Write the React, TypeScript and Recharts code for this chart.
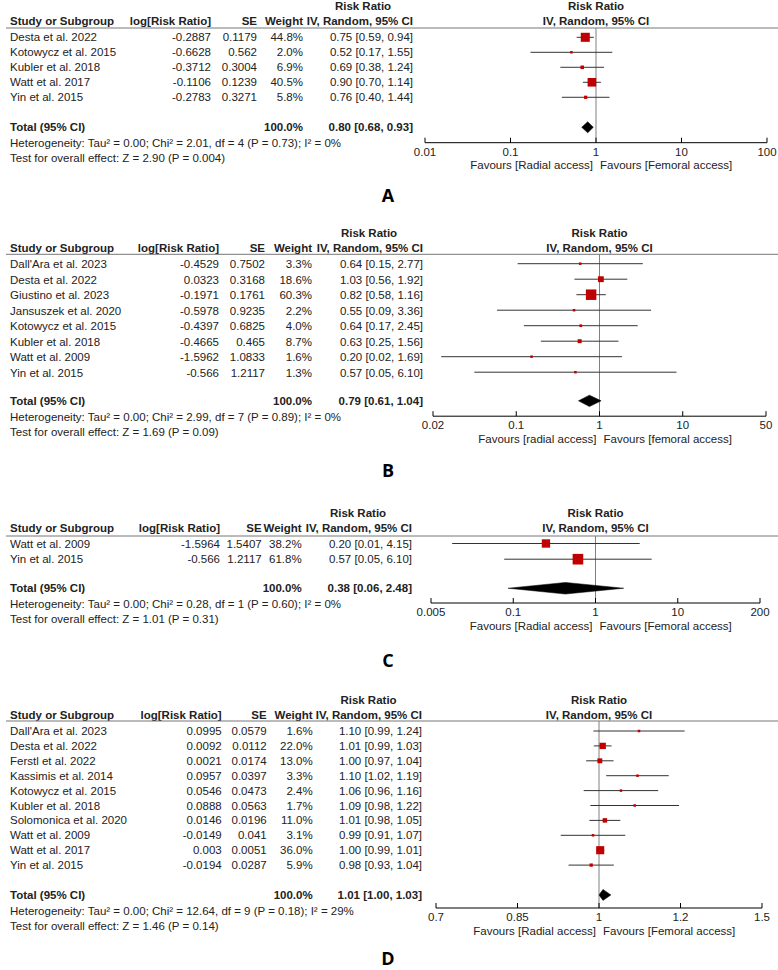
import React from "react";
import { ScatterChart, Scatter, XAxis, YAxis, ErrorBar, ReferenceLine } from "recharts";

const FONT = "'Liberation Sans', Arial, sans-serif";
const TEXT = "#222";

// ---- Panel A ----
const studiesA = ["Desta et al. 2022", "Kotowycz et al. 2015", "Kubler et al. 2018", "Watt et al. 2017", "Yin et al. 2015"];
const logRRA = [-0.2887, -0.6628, -0.3712, -0.1106, -0.2783];
const seA = [0.1179, 0.562, 0.3004, 0.1239, 0.3271];
const weightA = [44.8, 2.0, 6.9, 40.5, 5.8];
const ciA = ["0.75 [0.59, 0.94]", "0.52 [0.17, 1.55]", "0.69 [0.38, 1.24]", "0.90 [0.70, 1.14]", "0.76 [0.40, 1.44]"];
const totalA = [0.8, 0.68, 0.93];
const totalTextA = "0.80 [0.68, 0.93]";
const hetA = "Heterogeneity: Tau² = 0.00; Chi² = 2.01, df = 4 (P = 0.73); I² = 0%";
const testA = "Test for overall effect: Z = 2.90 (P = 0.004)";
const ticksA = ["0.01", "0.1", "1", "10", "100"];
const favoursA = ["Favours [Radial access]", "Favours [Femoral access]"];

// ---- Panel B ----
const studiesB = ["Dall'Ara et al. 2023", "Desta et al. 2022", "Giustino et al. 2023", "Jansuszek et al. 2020", "Kotowycz et al. 2015", "Kubler et al. 2018", "Watt et al. 2009", "Yin et al. 2015"];
const logRRB = [-0.4529, 0.0323, -0.1971, -0.5978, -0.4397, -0.4665, -1.5962, -0.566];
const seB = [0.7502, 0.3168, 0.1761, 0.9235, 0.6825, 0.465, 1.0833, 1.2117];
const weightB = [3.3, 18.6, 60.3, 2.2, 4.0, 8.7, 1.6, 1.3];
const ciB = ["0.64 [0.15, 2.77]", "1.03 [0.56, 1.92]", "0.82 [0.58, 1.16]", "0.55 [0.09, 3.36]", "0.64 [0.17, 2.45]", "0.63 [0.25, 1.56]", "0.20 [0.02, 1.69]", "0.57 [0.05, 6.10]"];
const totalB = [0.79, 0.61, 1.04];
const totalTextB = "0.79 [0.61, 1.04]";
const hetB = "Heterogeneity: Tau² = 0.00; Chi² = 2.99, df = 7 (P = 0.89); I² = 0%";
const testB = "Test for overall effect: Z = 1.69 (P = 0.09)";
const ticksB = ["0.02", "0.1", "1", "10", "50"];
const favoursB = ["Favours [radial access]", "Favours [femoral access]"];

// ---- Panel C ----
const studiesC = ["Watt et al. 2009", "Yin et al. 2015"];
const logRRC = [-1.5964, -0.566];
const seC = [1.5407, 1.2117];
const weightC = [38.2, 61.8];
const ciC = ["0.20 [0.01, 4.15]", "0.57 [0.05, 6.10]"];
const totalC = [0.38, 0.06, 2.48];
const totalTextC = "0.38 [0.06, 2.48]";
const hetC = "Heterogeneity: Tau² = 0.00; Chi² = 0.28, df = 1 (P = 0.60); I² = 0%";
const testC = "Test for overall effect: Z = 1.01 (P = 0.31)";
const ticksC = ["0.005", "0.1", "1", "10", "200"];
const favoursC = ["Favours [Radial access]", "Favours [Femoral access]"];

// ---- Panel D ----
const studiesD = ["Dall'Ara et al. 2023", "Desta et al. 2022", "Ferstl et al. 2022", "Kassimis et al. 2014", "Kotowycz et al. 2015", "Kubler et al. 2018", "Solomonica et al. 2020", "Watt et al. 2009", "Watt et al. 2017", "Yin et al. 2015"];
const logRRD = [0.0995, 0.0092, 0.0021, 0.0957, 0.0546, 0.0888, 0.0146, -0.0149, 0.003, -0.0194];
const seD = [0.0579, 0.0112, 0.0174, 0.0397, 0.0473, 0.0563, 0.0196, 0.041, 0.0051, 0.0287];
const weightD = [1.6, 22.0, 13.0, 3.3, 2.4, 1.7, 11.0, 3.1, 36.0, 5.9];
const ciD = ["1.10 [0.99, 1.24]", "1.01 [0.99, 1.03]", "1.00 [0.97, 1.04]", "1.10 [1.02, 1.19]", "1.06 [0.96, 1.16]", "1.09 [0.98, 1.22]", "1.01 [0.98, 1.05]", "0.99 [0.91, 1.07]", "1.00 [0.99, 1.01]", "0.98 [0.93, 1.04]"];
const totalD = [1.01, 1.0, 1.03];
const totalTextD = "1.01 [1.00, 1.03]";
const hetD = "Heterogeneity: Tau² = 0.00; Chi² = 12.64, df = 9 (P = 0.18); I² = 29%";
const testD = "Test for overall effect: Z = 1.46 (P = 0.14)";
const ticksD = ["0.7", "0.85", "1", "1.2", "1.5"];
const favoursD = ["Favours [Radial access]", "Favours [Femoral access]"];

// pixel layout of each panel (header line, rows, axis, table columns)
const panels = [
  {
    letter: "A", studies: studiesA, logRR: logRRA, se: seA, weight: weightA, ci: ciA, total: totalA, totalText: totalTextA,
    het: hetA, test: testA, tickLabels: ticksA, favours: favoursA,
    L: { top: 28, row1: 37.3, rowH: 15, totalGap: 2, axisY: 142.7, axisL: 425, axisR: 767, rrY: 6, hdrY: 21,
      colLog: 211, colSe: 257, colW: 303, ivL: 313, ciR: 413, letterY: 195 },
  },
  {
    letter: "B", studies: studiesB, logRR: logRRB, se: seB, weight: weightB, ci: ciB, total: totalB, totalText: totalTextB,
    het: hetB, test: testB, tickLabels: ticksB, favours: favoursB,
    L: { top: 254.3, row1: 264, rowH: 15.5, totalGap: 1.85, axisY: 416.5, axisL: 433, axisR: 766, rrY: 233, hdrY: 248,
      colLog: 219, colSe: 265, colW: 312, ivL: 315, ciR: 423, letterY: 470 },
  },
  {
    letter: "C", studies: studiesC, logRR: logRRC, se: seC, weight: weightC, ci: ciC, total: totalC, totalText: totalTextC,
    het: hetC, test: testC, tickLabels: ticksC, favours: favoursC,
    L: { top: 536, row1: 543.5, rowH: 15.7, totalGap: 1.85, axisY: 603, axisL: 431, axisR: 760, rrY: 512.7, hdrY: 528.3,
      colLog: 220, colSe: 261.7, colW: 301.7, ivL: 304, ciR: 412, letterY: 660 },
  },
  {
    letter: "D", studies: studiesD, logRR: logRRD, se: seD, weight: weightD, ci: ciD, total: totalD, totalText: totalTextD,
    het: hetD, test: testD, tickLabels: ticksD, favours: favoursD,
    L: { top: 721, row1: 731, rowH: 14.9, totalGap: 2, axisY: 908, axisL: 436, axisR: 762, rrY: 700, hdrY: 715,
      colLog: 221.7, colSe: 266.7, colW: 312.7, ivL: 315, ciR: 422, letterY: 958 },
  },
];

const Square = (props: any) => {
  const s = Math.max(2.5, 1.35 * Math.sqrt(props.payload.w));
  return <rect x={props.cx - s / 2} y={props.cy - s / 2} width={s} height={s} fill="#c00000" />;
};

const Diamond = (props: any) => {
  const pts = (props.points || []).map((p: any) => `${p.x},${p.y}`).join(" ");
  return <polygon points={pts} fill="#000" stroke="#000" strokeWidth={0.5} />;
};

function ForestPlot({ p }: { p: any }) {
  const L = p.L;
  const n = p.studies.length;
  const H = L.axisY - L.top;
  const d0 = 1 - (L.row1 - L.top) / L.rowH;
  const d1 = d0 + H / L.rowH;
  const m = Number(p.tickLabels[p.tickLabels.length - 1]);
  const ticks = [1 / m, 1 / Math.sqrt(m), 1, Math.sqrt(m), m];

  const rows = p.studies.map((s: string, i: number) => {
    const x = Math.exp(p.logRR[i]);
    const lo = Math.exp(p.logRR[i] - 1.96 * p.se[i]);
    const hi = Math.exp(p.logRR[i] + 1.96 * p.se[i]);
    return { x, y: i + 1, w: p.weight[i], err: [x - lo, hi - x] };
  });

  const ty = n + L.totalGap;
  const [rr, lo, hi] = p.total;
  const diamond = [
    { x: lo, y: ty },
    { x: rr, y: ty - 0.37 },
    { x: hi, y: ty },
    { x: rr, y: ty + 0.37 },
  ];

  const pad = 24;
  const w = L.axisR - L.axisL + pad * 2;

  const renderTick = (props: any) => {
    const { x, y, index } = props;
    return (
      <g>
        <line x1={x} x2={x} y1={y - 5} y2={y} stroke="#000" />
        <text x={x} y={y + 9} textAnchor="middle" dominantBaseline="central" fontSize={11.5} fontFamily={FONT} fill={TEXT}>
          {p.tickLabels[index]}
        </text>
      </g>
    );
  };

  return (
    <div style={{ position: "absolute", left: L.axisL - pad, top: L.top }}>
      <ScatterChart width={w} height={H + 34} margin={{ top: 0, right: pad, bottom: 0, left: pad }}>
        <XAxis
          type="number"
          dataKey="x"
          scale="log"
          domain={[1 / m, m]}
          allowDataOverflow
          ticks={ticks}
          interval={0}
          tickSize={0}
          tickMargin={0}
          height={34}
          axisLine={{ stroke: "#000" }}
          tickLine={false}
          tick={renderTick}
        />
        <YAxis type="number" dataKey="y" domain={[d0, d1]} reversed hide allowDataOverflow />
        <ReferenceLine x={1} stroke="#808080" />
        <Scatter data={rows} shape={Square} isAnimationActive={false}>
          <ErrorBar dataKey="err" direction="x" width={0} stroke="#333" strokeWidth={1} />
        </Scatter>
        <Scatter data={diamond} shape={() => <g />} line={Diamond} lineType="joint" isAnimationActive={false} />
      </ScatterChart>
    </div>
  );
}

function TableText({ p }: { p: any }) {
  const L = p.L;
  const n = p.studies.length;
  const rowY = (i: number) => L.row1 + i * L.rowH;
  const totalY = L.row1 + (n - 1 + L.totalGap) * L.rowH;
  const center = (L.axisL + L.axisR) / 2;
  const ivMid = (L.ivL + L.ciR) / 2;
  const t = { fontSize: 11.5, fontFamily: FONT, fill: TEXT, dominantBaseline: "central" as const };
  const b = { ...t, fontWeight: 700 };
  return (
    <g>
      <text x={ivMid} y={L.rrY} textAnchor="middle" {...b}>Risk Ratio</text>
      <text x={center} y={L.rrY} textAnchor="middle" {...b}>Risk Ratio</text>
      <text x={10} y={L.hdrY} {...b}>Study or Subgroup</text>
      <text x={L.colLog} y={L.hdrY} textAnchor="end" {...b}>log[Risk Ratio]</text>
      <text x={L.colSe} y={L.hdrY} textAnchor="end" {...b}>SE</text>
      <text x={L.colW} y={L.hdrY} textAnchor="end" {...b}>Weight</text>
      <text x={L.ciR} y={L.hdrY} textAnchor="end" {...b}>IV, Random, 95% CI</text>
      <text x={center} y={L.hdrY} textAnchor="middle" {...b}>IV, Random, 95% CI</text>
      <line x1={6} x2={778} y1={L.top} y2={L.top} stroke="#777" strokeWidth={1} />
      {p.studies.map((s: string, i: number) => (
        <g key={s}>
          <text x={10} y={rowY(i)} {...t}>{s}</text>
          <text x={L.colLog} y={rowY(i)} textAnchor="end" {...t}>{String(p.logRR[i])}</text>
          <text x={L.colSe} y={rowY(i)} textAnchor="end" {...t}>{String(p.se[i])}</text>
          <text x={L.colW} y={rowY(i)} textAnchor="end" {...t}>{p.weight[i].toFixed(1) + "%"}</text>
          <text x={L.ciR} y={rowY(i)} textAnchor="end" {...t}>{p.ci[i]}</text>
        </g>
      ))}
      <text x={10} y={totalY} {...b}>Total (95% CI)</text>
      <text x={L.colW} y={totalY} textAnchor="end" {...b}>100.0%</text>
      <text x={L.ciR} y={totalY} textAnchor="end" {...b}>{p.totalText}</text>
      <text x={10} y={totalY + 16} {...t}>{p.het}</text>
      <text x={10} y={totalY + 31} {...t}>{p.test}</text>
      <text x={center - 3} y={L.axisY + 22.5} textAnchor="end" {...t}>{p.favours[0]}</text>
      <text x={center + 4} y={L.axisY + 22.5} {...t}>{p.favours[1]}</text>
      <text x={388} y={L.letterY} textAnchor="middle" dominantBaseline="central" fontSize={18} fontWeight={700}
        fontFamily="'Open Sans', 'Liberation Sans', sans-serif" fill="#000">{p.letter}</text>
    </g>
  );
}

export default function App() {
  return (
    <div style={{ position: "absolute", left: 0, top: 0, width: 778, height: 970, background: "#fff" }}>
      <svg width={778} height={970} style={{ position: "absolute", left: 0, top: 0 }}>
        {panels.map((p) => (
          <TableText key={p.letter} p={p} />
        ))}
      </svg>
      {panels.map((p) => (
        <ForestPlot key={p.letter} p={p} />
      ))}
    </div>
  );
}
